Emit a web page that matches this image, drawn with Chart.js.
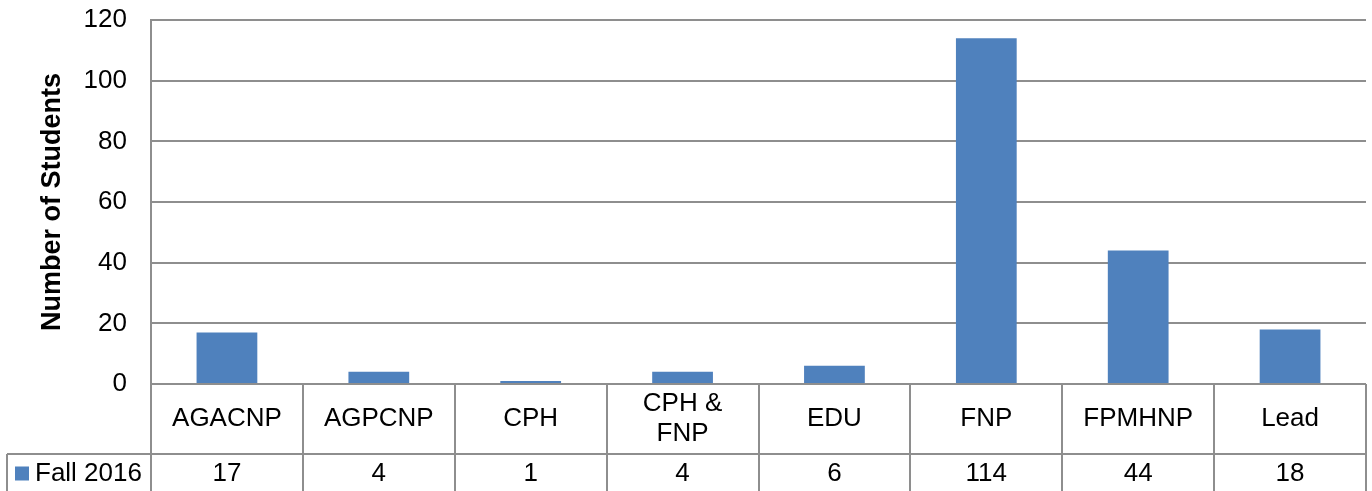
<!DOCTYPE html>
<html>
<head>
<meta charset="utf-8">
<script src="https://cdn.jsdelivr.net/npm/chart.js@4/dist/chart.umd.min.js"></script>
<style>
  body { margin: 0; background: #fff; }
  #box { width: 1372px; height: 491px; }
</style>
</head>
<body>
<div id="box"><canvas id="myChart" width="1372" height="491"></canvas></div>
<script>
const categories = ['AGACNP', 'AGPCNP', 'CPH', ['CPH &', 'FNP'], 'EDU', 'FNP', 'FPMHNP', 'Lead'];
const fall2016 = [17, 4, 1, 4, 6, 114, 44, 18];
const seriesName = 'Fall 2016';
const yTicks = [0, 20, 40, 60, 80, 100, 120];

const barBlue = '#4f81bd';
const lineGray = '#8e8e8e';
const fontFamily = '"Liberation Sans", Arial, sans-serif';

// draws the data table under the plot (category row + values row + legend cell)
const dataTable = {
    id: 'data_table',
    afterDraw: (chart) => {
        const {ctx, chartArea} = chart;
        const x = chart.scales.x;
        const n = categories.length;
        const cellW = (chartArea.right - chartArea.left) / n;
        const top = chartArea.bottom;
        const rowSplit = top + 70;
        const bottom = chart.height;
        const legendLeft = 7;

        ctx.save();
        ctx.strokeStyle = lineGray;
        ctx.lineWidth = 2;
        ctx.beginPath();
        for (let i = 0; i <= n; i++) {
            const bx = Math.round(chartArea.left + i * cellW);
            ctx.moveTo(bx, top);
            ctx.lineTo(bx, bottom);
        }
        ctx.moveTo(legendLeft, rowSplit);
        ctx.lineTo(chartArea.right, rowSplit);
        ctx.moveTo(legendLeft, rowSplit);
        ctx.lineTo(legendLeft, bottom);
        ctx.stroke();

        ctx.fillStyle = '#000';
        ctx.font = '26px ' + fontFamily;
        ctx.textAlign = 'center';
        ctx.textBaseline = 'middle';
        const catMid = (top + rowSplit) / 2;
        const valMid = (rowSplit + bottom) / 2 + 1;
        categories.forEach((label, i) => {
            const cx = x.getPixelForValue(i);
            if (Array.isArray(label)) {
                const lh = 30;
                label.forEach((line, j) => {
                    ctx.fillText(line, cx, catMid + (j - (label.length - 1) / 2) * lh);
                });
            } else {
                ctx.fillText(label, cx, catMid);
            }
            ctx.fillText(String(fall2016[i]), cx, valMid);
        });

        // legend key
        ctx.fillStyle = barBlue;
        ctx.fillRect(15, valMid - 7, 14, 14);
        ctx.fillStyle = '#000';
        ctx.textAlign = 'left';
        ctx.fillText(seriesName, 35, valMid);
        ctx.restore();
    }
};

new Chart(document.getElementById('myChart').getContext('2d'), {
    type: 'bar',
    data: {
        labels: categories,
        datasets: [{
            label: seriesName,
            data: fall2016,
            backgroundColor: barBlue,
            borderWidth: 0,
            barPercentage: 0.4,
            categoryPercentage: 1.0
        }]
    },
    options: {
        responsive: false,
        animation: false,
        layout: { padding: { left: 0, right: 6, top: 20, bottom: 107 } },
        plugins: {
            legend: { display: false },
            tooltip: { enabled: false }
        },
        scales: {
            x: { display: false },
            y: {
                min: 0,
                max: 120,
                afterBuildTicks: (scale) => { scale.ticks = yTicks.map(v => ({ value: v })); },
                afterFit: (scale) => {
                    scale.width = 151;
                    scale.paddingTop = 0;
                    scale.paddingBottom = 0;
                },
                ticks: {
                    padding: 24,
                    color: '#000',
                    font: { family: fontFamily, size: 26 }
                },
                grid: { color: lineGray, lineWidth: 2, drawTicks: false },
                border: { color: lineGray, width: 2 },
                title: {
                    display: true,
                    text: 'Number of Students',
                    color: '#000',
                    font: { family: fontFamily, size: 27, weight: 'bold' },
                    padding: { top: 36, bottom: 0 }
                }
            }
        }
    },
    plugins: [dataTable]
});
</script>
</body>
</html>
